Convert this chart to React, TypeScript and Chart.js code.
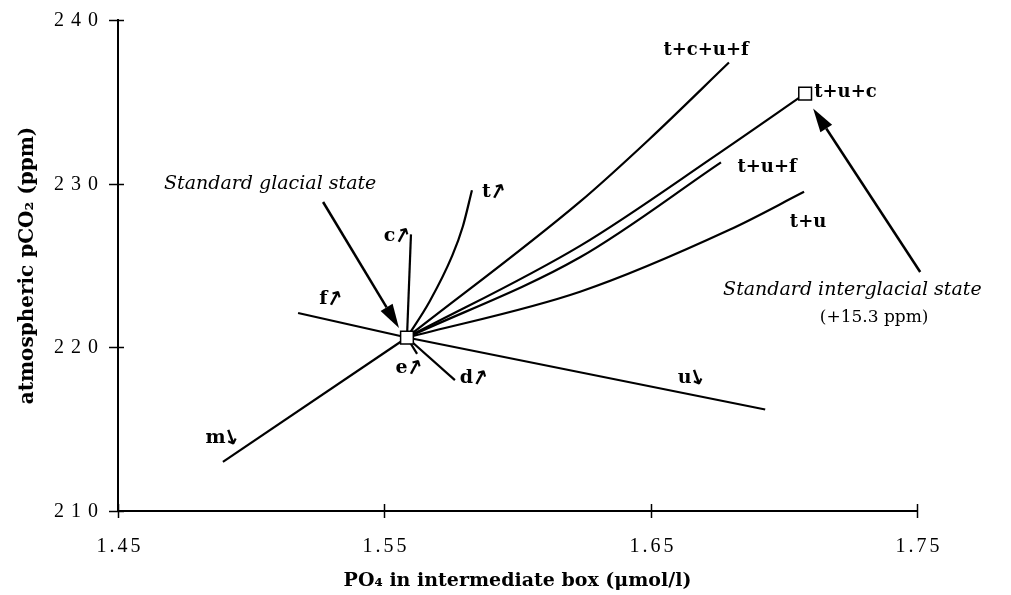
import React, { useEffect, useRef } from 'react';
import { Chart, registerables } from 'chart.js';

Chart.register(...registerables);

// ---- axis ticks ----
const xTickValues = [1.45, 1.55, 1.65, 1.75];
const xTickLabels = ['1.45', '1.55', '1.65', '1.75'];
const yTickValues = [210, 220, 230, 240];
const yTickLabels = ['210', '220', '230', '240'];

const xTitle = 'PO₄ in intermediate box (μmol/l)';
const yTitle = 'atmospheric pCO₂ (ppm)';

// ---- states ----
const glacialX = [1.5585];
const glacialY = [220.6];
const interglacialX = [1.708];
const interglacialY = [235.5];

// ---- sensitivity lines (start at the glacial state) ----
const tcufX = [1.5585, 1.6235, 1.6494, 1.6794];
const tcufY = [220.6, 228.9, 232.7, 237.4];
const tucX = [1.5585, 1.6235, 1.676, 1.708];
const tucY = [220.6, 226.2, 231.9, 235.5];
const tufX = [1.5585, 1.6235, 1.6764];
const tufY = [220.6, 225.5, 231.3];
const tuX = [1.5585, 1.6235, 1.6798, 1.7076];
const tuY = [220.6, 223.4, 227.2, 229.5];
const tX = [1.5585, 1.567, 1.5755, 1.5795, 1.5829];
const tY = [220.6, 222.8, 225.6, 227.4, 229.6];
const cX = [1.5585, 1.56];
const cY = [220.6, 226.9];
const fX = [1.5585, 1.5176];
const fY = [220.6, 222.1];
const uX = [1.5585, 1.693];
const uY = [220.6, 216.2];
const mX = [1.5585, 1.4894];
const mY = [220.6, 213.0];
const dX = [1.5585, 1.5765];
const dY = [220.6, 218.0];
const eX = [1.5585, 1.5623];
const eY = [220.6, 219.6];

// ---- label texts ----
const comboLabels = ['t+c+u+f', 't+u+c', 't+u+f', 't+u'];
const singleLetters = ['t', 'c', 'f', 'e', 'd', 'u', 'm'];
const singleDirs = ['up', 'up', 'up', 'up', 'up', 'down', 'down'];
const glacialText = 'Standard glacial state';
const interglacialText = 'Standard interglacial state';
const interglacialNote = '(+15.3 ppm)';

// label anchors in data units (layout, not data)
const comboAnchors = [
  { x: 1.6708, y: 238.16, align: 'center' },
  { x: 1.7114, y: 235.6, align: 'left' },
  { x: 1.6937, y: 231.0, align: 'center' },
  { x: 1.7091, y: 227.65, align: 'center' },
];
const singleAnchors = [
  { x: 1.5904, y: 229.5 },
  { x: 1.554, y: 226.8 },
  { x: 1.5292, y: 222.95 },
  { x: 1.5585, y: 218.74 },
  { x: 1.5829, y: 218.12 },
  { x: 1.6648, y: 218.12 },
  { x: 1.4887, y: 214.46 },
];
const glacialTextAnchor = { x: 1.547, y: 230.0 };
const interglacialTextAnchor = { x: 1.6772, y: 223.5 };
const interglacialNoteAnchor = { x: 1.7339, y: 221.8 };
const glacialArrow = { x1: 1.527, y1: 228.88, x2: 1.5555, y2: 221.18 };
const interglacialArrow = { x1: 1.7512, y1: 224.6, x2: 1.711, y2: 234.6 };

const pts = (xs: number[], ys: number[]) => xs.map((x, i) => ({ x, y: ys[i] }));

function lineDs(xs: number[], ys: number[], curved: boolean) {
  return {
    data: pts(xs, ys),
    showLine: true,
    borderColor: '#000',
    borderWidth: 2.2,
    pointRadius: 0,
    fill: false,
    cubicInterpolationMode: curved ? 'monotone' : 'default',
    tension: 0,
    order: 1,
    clip: false,
  } as any;
}

function squareDs(xs: number[], ys: number[]) {
  return {
    data: pts(xs, ys),
    showLine: false,
    pointStyle: 'rect',
    pointRadius: 9,
    backgroundColor: '#fff',
    borderColor: '#000',
    borderWidth: 1.5,
    order: 0,
    clip: false,
  } as any;
}

function drawArrow(ctx: CanvasRenderingContext2D, x1: number, y1: number, x2: number, y2: number) {
  const ang = Math.atan2(y2 - y1, x2 - x1);
  const hl = 24;
  const hw = 7;
  const bx = x2 - hl * Math.cos(ang);
  const by = y2 - hl * Math.sin(ang);
  ctx.lineWidth = 2.5;
  ctx.beginPath();
  ctx.moveTo(x1, y1);
  ctx.lineTo(bx, by);
  ctx.stroke();
  ctx.beginPath();
  ctx.moveTo(x2, y2);
  ctx.lineTo(bx + hw * Math.sin(ang), by - hw * Math.cos(ang));
  ctx.lineTo(bx - hw * Math.sin(ang), by + hw * Math.cos(ang));
  ctx.closePath();
  ctx.fill();
}

function drawTag(ctx: CanvasRenderingContext2D, letter: string, dir: string, cx: number, cy: number) {
  ctx.font = 'bold 19px "DejaVu Serif"';
  const lw = ctx.measureText(letter).width;
  const aw = 10;
  const gap = 1;
  const total = lw + gap + aw;
  const left = cx - total / 2;
  ctx.textAlign = 'left';
  ctx.textBaseline = 'middle';
  ctx.fillText(letter, left, cy);
  ctx.save();
  ctx.translate(left + lw + gap + aw / 2, cy + 1);
  ctx.rotate(dir === 'up' ? 0.5 : -0.35);
  ctx.textAlign = 'center';
  ctx.textBaseline = 'middle';
  ctx.font = 'bold 21px "DejaVu Sans"';
  ctx.fillText(dir === 'up' ? '↑' : '↓', 0, 0);
  ctx.restore();
}

const overlay = {
  id: 'overlay',
  afterDraw(chart: any) {
    const ctx: CanvasRenderingContext2D = chart.ctx;
    const xs = chart.scales.x;
    const ys = chart.scales.y;
    const area = chart.chartArea;
    const px = (v: number) => xs.getPixelForValue(v);
    const py = (v: number) => ys.getPixelForValue(v);
    ctx.save();
    ctx.strokeStyle = '#000';
    ctx.fillStyle = '#000';

    // y ticks
    ctx.lineWidth = 1.5;
    yTickValues.forEach((v, i) => {
      const yy = Math.round(py(v)) + 0.5;
      ctx.beginPath();
      ctx.moveTo(area.left - 9, yy);
      ctx.lineTo(area.left + 6, yy);
      ctx.stroke();
      ctx.font = '20px "Liberation Serif"';
      (ctx as any).letterSpacing = '7px';
      ctx.textAlign = 'right';
      ctx.textBaseline = 'middle';
      ctx.fillText(yTickLabels[i], area.left - 20 + 7, yy);
      (ctx as any).letterSpacing = '0px';
    });
    // x ticks
    xTickValues.forEach((v, i) => {
      const xx = Math.round(px(v)) + 0.5;
      ctx.beginPath();
      ctx.moveTo(xx, area.bottom - 7);
      ctx.lineTo(xx, area.bottom + 7);
      ctx.stroke();
      ctx.font = '20px "Liberation Serif"';
      (ctx as any).letterSpacing = '3px';
      ctx.textAlign = 'center';
      ctx.textBaseline = 'middle';
      ctx.fillText(xTickLabels[i], xx + 1.5, area.bottom + 36);
      (ctx as any).letterSpacing = '0px';
    });

    // axis titles
    ctx.font = 'bold 19px "DejaVu Serif"';
    ctx.textAlign = 'center';
    ctx.textBaseline = 'middle';
    ctx.fillText(xTitle, (area.left + area.right) / 2, area.bottom + 70);
    ctx.save();
    ctx.translate(28, (area.top + area.bottom) / 2);
    ctx.rotate(-Math.PI / 2);
    ctx.font = 'bold 20px "DejaVu Serif"';
    ctx.fillText(yTitle, 0, 0);
    ctx.restore();

    // combo labels
    ctx.font = 'bold 18px "DejaVu Serif"';
    ctx.textBaseline = 'middle';
    comboLabels.forEach((lab, i) => {
      const a = comboAnchors[i];
      ctx.textAlign = a.align as CanvasTextAlign;
      ctx.fillText(lab, px(a.x), py(a.y));
    });

    // single-factor labels
    singleLetters.forEach((l, i) => {
      const a = singleAnchors[i];
      drawTag(ctx, l, singleDirs[i], px(a.x), py(a.y));
    });

    // annotations
    ctx.font = 'italic 19px "DejaVu Serif"';
    ctx.textBaseline = 'middle';
    ctx.textAlign = 'right';
    ctx.fillText(glacialText, px(glacialTextAnchor.x), py(glacialTextAnchor.y));
    ctx.textAlign = 'left';
    ctx.fillText(interglacialText, px(interglacialTextAnchor.x), py(interglacialTextAnchor.y));
    ctx.font = '17px "DejaVu Serif"';
    ctx.textAlign = 'center';
    ctx.fillText(interglacialNote, px(interglacialNoteAnchor.x), py(interglacialNoteAnchor.y));

    drawArrow(ctx, px(glacialArrow.x1), py(glacialArrow.y1), px(glacialArrow.x2), py(glacialArrow.y2));
    drawArrow(ctx, px(interglacialArrow.x1), py(interglacialArrow.y1), px(interglacialArrow.x2), py(interglacialArrow.y2));

    ctx.restore();
  },
};

export default function App() {
  const ref = useRef<HTMLCanvasElement>(null);
  useEffect(() => {
    if (!ref.current) return;
    const chart = new Chart(ref.current, {
      type: 'scatter',
      data: {
        datasets: [
          squareDs(glacialX, glacialY),
          squareDs(interglacialX, interglacialY),
          lineDs(tcufX, tcufY, true),
          lineDs(tucX, tucY, true),
          lineDs(tufX, tufY, true),
          lineDs(tuX, tuY, true),
          lineDs(tX, tY, true),
          lineDs(cX, cY, false),
          lineDs(fX, fY, false),
          lineDs(uX, uY, false),
          lineDs(mX, mY, false),
          lineDs(dX, dY, false),
          lineDs(eX, eY, false),
        ],
      },
      options: {
        animation: false,
        responsive: false,
        devicePixelRatio: 1,
        layout: { padding: { left: 118, right: 94, top: 20, bottom: 84 } },
        plugins: { legend: { display: false }, tooltip: { enabled: false } },
        scales: {
          x: {
            type: 'linear',
            min: 1.45,
            max: 1.75,
            grid: { display: false, drawTicks: false },
            border: { display: true, color: '#000', width: 2 },
            ticks: { display: false },
          },
          y: {
            type: 'linear',
            min: 210,
            max: 240,
            grid: { display: false, drawTicks: false },
            border: { display: true, color: '#000', width: 2 },
            ticks: { display: false },
          },
        },
      },
      plugins: [overlay],
    } as any);
    return () => chart.destroy();
  }, []);
  return (
    <div style={{ position: 'absolute', left: 0, top: 0, width: 1011, height: 595, background: '#fff' }}>
      <canvas ref={ref} width={1011} height={595} style={{ display: 'block', width: 1011, height: 595 }} />
    </div>
  );
}
